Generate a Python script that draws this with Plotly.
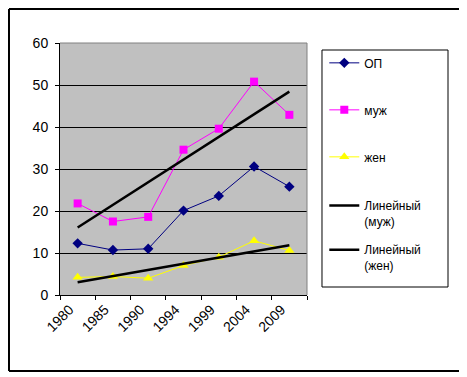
import numpy as np
import plotly.graph_objects as go

years = ["1980", "1985", "1990", "1994", "1999", "2004", "2009"]
op = [12.3, 10.7, 11.0, 20.1, 23.6, 30.6, 25.8]
muzh = [21.8, 17.5, 18.6, 34.6, 39.6, 50.8, 42.9]
zhen = [4.2, 4.4, 4.0, 7.0, 9.0, 12.9, 10.6]
y_ticks = [0, 10, 20, 30, 40, 50, 60]

idx = np.arange(len(years))


def trend(vals):
    k, b = np.polyfit(idx, vals, 1)
    return list(k * idx + b)


font = "Liberation Sans, Arial, sans-serif"
fig = go.Figure()
fig.add_trace(go.Scatter(x=years, y=op, name="ОП", mode="lines+markers",
                         line=dict(color="#000080", width=1),
                         marker=dict(symbol="diamond", size=8, color="#000080"),
                         legendgroup="a", legend="legend"))
fig.add_trace(go.Scatter(x=years, y=muzh, name="муж", mode="lines+markers",
                         line=dict(color="#FF00FF", width=1),
                         marker=dict(symbol="square", size=8, color="#FF00FF"),
                         legendgroup="b", legend="legend"))
fig.add_trace(go.Scatter(x=years, y=zhen, name="жен", mode="lines+markers",
                         line=dict(color="#FFFF00", width=1),
                         marker=dict(symbol="triangle-up", size=9, color="#FFFF00"),
                         legendgroup="c", legend="legend"))
fig.add_trace(go.Scatter(x=years, y=trend(muzh), name="Линейный<br>(муж)", mode="lines",
                         line=dict(color="black", width=2.5), legendgroup="d",
                         legend="legend2"))
fig.add_trace(go.Scatter(x=years, y=trend(zhen), name="Линейный<br>(жен)", mode="lines",
                         line=dict(color="black", width=2.5), legendgroup="e",
                         legend="legend2"))

leg_common = dict(xanchor="left", yanchor="top", borderwidth=0,
                  bgcolor="rgba(0,0,0,0)", font=dict(size=12),
                  traceorder="grouped", valign="top")
fig.update_layout(
    width=467, height=377,
    margin=dict(l=52, r=168, t=35, b=90, autoexpand=False),
    paper_bgcolor="white",
    plot_bgcolor="#C0C0C0",
    font=dict(family=font, size=14, color="black"),
    showlegend=True,
    legend=dict(x=1.07, y=0.978, tracegroupgap=28, **leg_common),
    legend2=dict(x=1.07, y=0.412, tracegroupgap=10, **leg_common),
)
fig.update_xaxes(type="category", range=[-0.5, 6.5], tickangle=-45,
                 showline=True, linecolor="black", linewidth=1,
                 ticks="outside", ticklen=4, tickcolor="black", tickson="boundaries",
                 showgrid=False, mirror=False, tickfont=dict(size=14), automargin=False,
                 ticklabelshift=-8)
fig.update_yaxes(range=[0, 60], tickvals=y_ticks, showline=True, linecolor="black",
                 linewidth=1, ticks="outside", ticklen=4, tickcolor="black",
                 showgrid=True, gridcolor="black", gridwidth=1, zeroline=False,
                 tickfont=dict(size=14), automargin=False, ticklabelstandoff=4)
# plot area right/top edges (gray)
fig.add_shape(type="line", xref="paper", yref="paper", x0=0, x1=1, y0=1, y1=1,
              line=dict(color="#808080", width=1))
fig.add_shape(type="line", xref="paper", yref="paper", x0=1, x1=1, y0=0, y1=1,
              line=dict(color="#808080", width=1))
# legend box
fig.add_shape(type="rect", xref="paper", yref="paper", x0=1.0607, x1=1.5709,
              y0=0.0317, y1=0.9722, line=dict(color="black", width=1), layer="below")
# outer chart frame
L, R, T, B = -0.2065, 1.6235, 1.1349, -0.3016
fig.add_shape(type="line", xref="paper", yref="paper", x0=L, x1=R, y0=T, y1=T,
              line=dict(color="black", width=2))
fig.add_shape(type="line", xref="paper", yref="paper", x0=L, x1=R, y0=B, y1=B,
              line=dict(color="black", width=2))
fig.add_shape(type="line", xref="paper", yref="paper", x0=L, x1=L, y0=B, y1=T,
              line=dict(color="black", width=2))
fig.add_shape(type="line", xref="paper", yref="paper", x0=R, x1=R, y0=B, y1=T,
              line=dict(color="#808080", width=2))

fig.write_html("out.html")
